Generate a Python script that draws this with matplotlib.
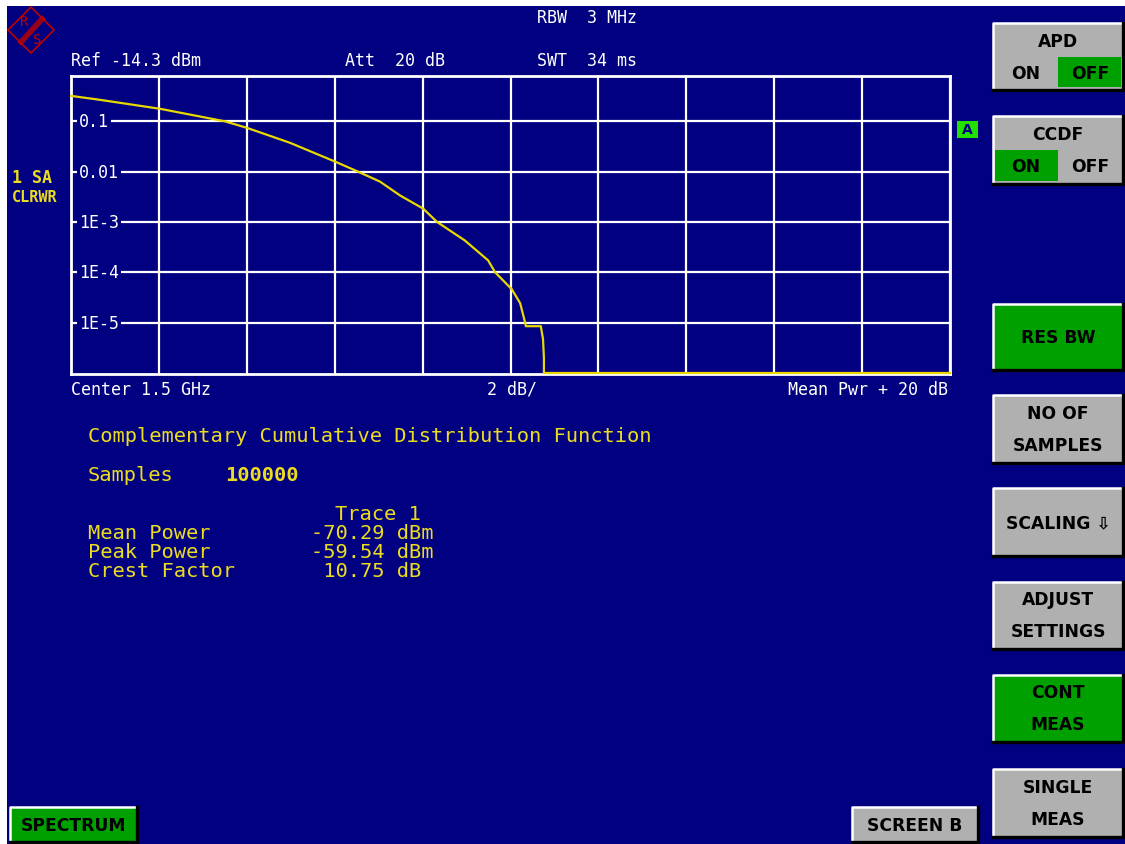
import matplotlib
matplotlib.use('Agg')
import matplotlib.pyplot as plt
from matplotlib.patches import Rectangle, Polygon
from matplotlib.transforms import blended_transform_factory

W, H = 1125, 845

# CCDF trace (level above mean power in dB, probability)
x_db = [0, 0.66, 2.03, 3.50, 4.00, 4.98, 6.01, 6.53, 7.03, 7.49, 8.01, 8.33,
        8.96, 9.49, 9.65, 10.03, 10.22, 10.33, 10.35, 10.69, 10.74, 10.76, 10.76, 20]
ccdf = [0.32, 0.267, 0.177, 0.1, 0.0743, 0.0375, 0.0158, 0.01, 0.00634, 0.00335,
        0.00185, 0.001, 4.3e-4, 1.73e-4, 1e-4, 4.6e-5, 2.43e-5, 1.02e-5, 8.5e-6,
        8.5e-6, 4.7e-6, 2e-6, 1e-6, 1e-6]

ytick_vals = [1e-1, 1e-2, 1e-3, 1e-4, 1e-5]
ytick_labels = ['0.1', '0.01', '1E-3', '1E-4', '1E-5']
xticks = list(range(0, 21, 2))

# softkeys: (top, bottom, face, label)
softkeys = [
    (305, 371, 'green', 'RES BW'),
    (396, 464, 'gray', 'NO OF\nSAMPLES'),
    (489, 557, 'gray', 'SCALING \u21e9'),
    (583, 650, 'gray', 'ADJUST\nSETTINGS'),
    (676, 743, 'green', 'CONT\nMEAS'),
    (770, 838, 'gray', 'SINGLE\nMEAS'),
]
toggles = [(24, 91, 'APD', 'OFF'), (117, 185, 'CCDF', 'ON')]

results_names = ['Mean Power', 'Peak Power', 'Crest Factor']
results_vals = ['-70.29 dBm', '-59.54 dBm', ' 10.75 dB']

BLUE = '#000080'
GRAY = '#b0b0b0'
GREEN = '#00a000'
YEL = '#ecdc20'
TRACE = '#e8d800'
MONO = 'DejaVu Sans Mono'
KEYFONT = 'DejaVu Sans'

fig = plt.figure(figsize=(W / 100, H / 100), dpi=100)
fig.patch.set_facecolor(BLUE)

bg = fig.add_axes([0, 0, 1, 1], zorder=0)
bg.set_xlim(0, W)
bg.set_ylim(H, 0)
bg.axis('off')

# white screen edges
bg.add_patch(Rectangle((0, 0), W, 7, facecolor='white', edgecolor='none'))
bg.add_patch(Rectangle((0, 0), 7, H, facecolor='white', edgecolor='none'))

# R&S logo
red = '#c00000'
bg.add_patch(Polygon([(31, 8), (54, 31), (31, 54), (8, 31)], closed=True,
                     facecolor='none', edgecolor=red, lw=1.2))
bg.plot([21, 42], [43, 20], color=red, lw=4, alpha=0.8)
bg.text(24, 22, 'R', color=red, fontsize=10, ha='center', va='center', family=MONO)
bg.text(37, 40, 'S', color=red, fontsize=10, ha='center', va='center', family=MONO)

# header texts
hdr = dict(color='white', fontsize=12, family=MONO, va='center', ha='left')
bg.text(537, 18, 'RBW  3 MHz', **hdr)
bg.text(71, 61, 'Ref -14.3 dBm', **hdr)
bg.text(345, 61, 'Att  20 dB', **hdr)
bg.text(537, 61, 'SWT  34 ms', **hdr)
bg.text(71, 390, 'Center 1.5 GHz', **hdr)
bg.text(487, 390, '2 dB/', **hdr)
bg.text(948, 390, 'Mean Pwr + 20 dB', **dict(hdr, ha='right'))

bg.text(12, 178, '1 SA', color=YEL, fontsize=12, family=MONO,
        fontweight='bold', va='center')
bg.text(12, 197, 'CLRWR', color=YEL, fontsize=11, family=MONO,
        fontweight='bold', va='center')

# trace marker "A"
bg.add_patch(Rectangle((957, 122), 21, 17, facecolor='#22e000', edgecolor='none'))
bg.text(967.5, 130.5, 'A', color=BLUE, fontsize=10, fontweight='bold',
        ha='center', va='center', family=KEYFONT)

# result table
res = dict(color=YEL, fontsize=14.7, family=MONO, va='center', ha='left')
bg.text(88, 437, 'Complementary Cumulative Distribution Function', **res)
bg.text(88, 476, 'Samples', **res)
bg.text(225, 476, '100000', **dict(res, fontweight='bold'))
bg.text(335, 515, 'Trace 1', **res)
for i, (n, v) in enumerate(zip(results_names, results_vals)):
    bg.text(88, 534 + 19 * i, n, **res)
    bg.text(311, 534 + 19 * i, v, **res)


def button(x0, y0, x1, y1, face):
    bg.add_patch(Rectangle((x0, y0), x1 - x0, y1 - y0, facecolor=face,
                           edgecolor='none', zorder=2))
    bg.plot([x0, x0, x1], [y1, y0, y0], color='white', lw=1.8, zorder=3)
    bg.plot([x0, x1, x1], [y1, y1, y0], color='black', lw=2.4, zorder=3)


key = dict(color='black', fontsize=12.3, fontweight='bold', family=KEYFONT,
           ha='center', va='center', linespacing=2.0, zorder=4)
kx0, kx1 = 993, 1123
for top, bot, face, label in softkeys:
    button(kx0, top, kx1, bot, GREEN if face == 'green' else GRAY)
    bg.text((kx0 + kx1) / 2, (top + bot) / 2, label, **key)

for top, bot, title, active in toggles:
    button(kx0, top, kx1, bot, GRAY)
    mid = (kx0 + kx1) / 2
    hx0 = kx0 + 2 if active == 'ON' else mid
    bg.add_patch(Rectangle((hx0, top + 34), mid - kx0 - 2, bot - top - 37,
                           facecolor=GREEN, edgecolor='none', zorder=2.5))
    bg.text(mid, top + 18, title, **key)
    bg.text((kx0 + mid) / 2, top + 50, 'ON', **key)
    bg.text((mid + kx1) / 2, top + 50, 'OFF', **key)

button(10, 808, 137, 843, GREEN)
bg.text(73.5, 826, 'SPECTRUM', **key)
button(852, 808, 978, 843, GRAY)
bg.text(915, 826, 'SCREEN B', **key)

# measurement diagram
ax = fig.add_axes([71 / W, 1 - 375 / H, (950 - 71) / W, (375 - 77) / H], zorder=1)
ax.set_facecolor(BLUE)
ax.set_yscale('log')
ax.set_xlim(0, 20)
ax.set_ylim(10 ** -6.02, 10 ** -0.1)
ax.set_xticks(xticks)
ax.set_yticks(ytick_vals)
ax.minorticks_off()
ax.grid(True, color='white', lw=1.6)
ax.tick_params(length=0, labelbottom=False, labelleft=False)
for s in ax.spines.values():
    s.set_color('white')
    s.set_linewidth(2)

tr = blended_transform_factory(ax.transAxes, ax.transData)
for v, lab in zip(ytick_vals, ytick_labels):
    ax.text(0.009, v, lab, transform=tr, color='white', fontsize=12, family=MONO,
            ha='left', va='center',
            bbox=dict(facecolor=BLUE, edgecolor='none', pad=1.5))

ax.plot(x_db, ccdf, color=TRACE, lw=1.6, clip_on=False, zorder=5)

fig.savefig('out.png', dpi=100, facecolor=BLUE)
